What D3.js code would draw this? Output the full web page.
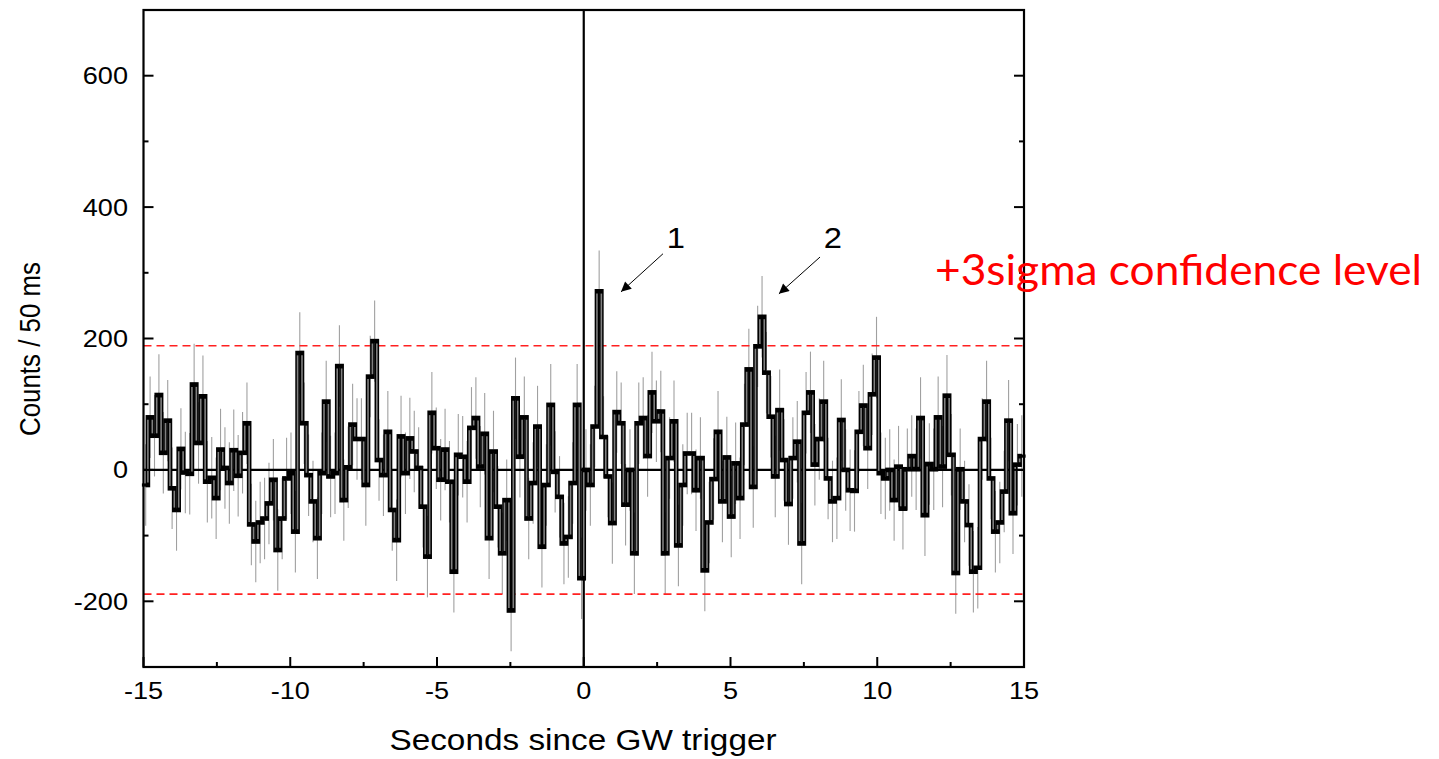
<!DOCTYPE html>
<html><head><meta charset="utf-8">
<script src="https://cdn.jsdelivr.net/npm/d3@7"></script>
<style>html,body{margin:0;padding:0;background:#fff;overflow:hidden}</style>
</head><body><svg id="chart" width="1439" height="759"></svg>
<script>
// ---- data ----
const binStart = -15;      // seconds
const binWidth = 0.15;     // seconds per bin
const counts = [
 -23, 80, 52, 114, 26, 75, -28, -61, 32, -4, -6, 130, 41, 112, -18, -12, -43, 31, 3, -20,
 30, -9, 26, 71, -83, -109, -80, -74, -51, -15, -122, -74, -13, -5, -94, 178, 71, -8, -48, -104,
 -5, 104, -10, -5, 158, -46, 4, 69, 47, 47, -23, 142, 196, 15, -8, 58, -61, -107, 51, -5,
 48, 28, 3, -56, -132, 87, 33, -15, 31, -18, -155, 23, 20, -18, 64, 79, 5, 55, -104, 28,
 -56, -127, -46, -214, 109, 20, 80, -74, -20, 66, -117, -23, 99, -3, -41, -112, -102, -20, 99, -165,
 0, -23, 66, 272, 50, -10, -81, 88, 71, -53, 0, -127, 71, 79, 21, 118, 74, 89, -127, 18,
 74, -115, -23, 25, 25, -31, 18, -153, -80, -14, 58, -48, 19, -71, 10, -43, 69, 153, -26, 188,
 233, 148, 81, -10, 91, 15, -52, 18, 43, -112, 87, 118, 8, 47, 104, -13, -48, -43, 76, 0,
 -31, -32, 58, 98, 33, 115, 171, -5, -13, 0, -46, 5, -59, 1, 21, 1, 79, -69, 9, 1,
 80, 5, 113, 23, -157, 1, -48, -84, -155, -149, 47, 104, -13, -94, -80, -33, 75, -66, 8, 21
];
const errorHalf = 62;          // half length of the error bars (counts)
const sigmaLevel = 189;        // +/- 3 sigma confidence level
const xTickValues = [-15, -10, -5, 0, 5, 10, 15];
const xMinorTicks = [-12.5, -7.5, -2.5, 2.5, 7.5, 12.5];
const yTickValues = [-200, 0, 200, 400, 600];
const yMinorTicks = [-300, -100, 100, 300, 500, 700];
const xTitle = "Seconds since GW trigger";
const yTitle = "Counts / 50 ms";
const sigmaText = "+3sigma confidence level";
const annotLabels = ["1", "2"];
const annotTip = [[1.27, 271], [6.65, 268]];
const annotTail = [[2.70, 329], [8.05, 324]];
const annotText = [[3.14, 355], [8.49, 355]];

// ---- layout ----
const svg = d3.select("#chart");
const X0 = 143.5, X1 = 1024, Y0 = 10, Y1 = 667;
const x = d3.scaleLinear().domain([-15, 15]).range([X0, X1]);
const y = d3.scaleLinear().domain([-300, 700]).range([Y1, Y0]);
const font = "'Liberation Sans', Arial, sans-serif";
const stretch = 1.13;

const bins = counts.map((v, i) => ({ x0: binStart + i * binWidth, x1: binStart + (i + 1) * binWidth, v }));

// error bars
svg.append("g").selectAll("line").data(bins).join("line")
  .attr("x1", d => x((d.x0 + d.x1) / 2)).attr("x2", d => x((d.x0 + d.x1) / 2))
  .attr("y1", d => y(d.v - errorHalf)).attr("y2", d => y(Math.min(d.v + errorHalf, 700)))
  .attr("stroke", "#a0a0a0").attr("stroke-width", 1.1);

// sigma lines
svg.append("g").selectAll("line").data([sigmaLevel, -sigmaLevel]).join("line")
  .attr("x1", X0).attr("x2", X1).attr("y1", d => y(d)).attr("y2", d => y(d))
  .attr("stroke", "#ff2020").attr("stroke-width", 1.7).attr("stroke-dasharray", "8,5");

// zero lines
svg.append("line").attr("x1", X0).attr("x2", X1).attr("y1", y(0)).attr("y2", y(0))
  .attr("stroke", "#000").attr("stroke-width", 2.2);
svg.append("line").attr("x1", x(0)).attr("x2", x(0)).attr("y1", Y0).attr("y2", Y1)
  .attr("stroke", "#000").attr("stroke-width", 2.2);

// step histogram
const verts = bins.slice(0, -1).map((d, i) => ({ xx: d.x1, a: d.v, b: bins[i + 1].v }));
const gStep = svg.append("g");
gStep.selectAll("line.v").data(verts).join("line").attr("class", "v")
  .attr("x1", d => x(d.xx)).attr("x2", d => x(d.xx))
  .attr("y1", d => y(d.a)).attr("y2", d => y(d.b))
  .attr("stroke", "#000").attr("stroke-width", 4.6).attr("stroke-linecap", "square");
gStep.selectAll("line.h").data(bins).join("line").attr("class", "h")
  .attr("x1", d => x(d.x0)).attr("x2", d => x(d.x1))
  .attr("y1", d => y(d.v)).attr("y2", d => y(d.v))
  .attr("stroke", "#000").attr("stroke-width", 3.2).attr("stroke-linecap", "square");
gStep.selectAll("line.vi").data(verts.filter(d => Math.abs(y(d.a) - y(d.b)) > 6)).join("line").attr("class", "vi")
  .attr("x1", d => x(d.xx)).attr("x2", d => x(d.xx))
  .attr("y1", d => { const s = Math.sign(y(d.b) - y(d.a)); return y(d.a) + s * 2.4; })
  .attr("y2", d => { const s = Math.sign(y(d.b) - y(d.a)); return y(d.b) - s * 2.4; })
  .attr("stroke", "#808080").attr("stroke-width", 1.6);

// frame
svg.append("rect").attr("x", X0).attr("y", Y0).attr("width", X1 - X0).attr("height", Y1 - Y0)
  .attr("fill", "none").attr("stroke", "#000").attr("stroke-width", 2.2);

// ticks (inward)
const gT = svg.append("g").attr("stroke", "#000").attr("stroke-width", 2);
xTickValues.concat(xMinorTicks).forEach(v => {
  const len = xTickValues.includes(v) ? 10 : 5;
  gT.append("line").attr("x1", x(v)).attr("x2", x(v)).attr("y1", Y1).attr("y2", Y1 - len);
});
yTickValues.concat(yMinorTicks).forEach(v => {
  const len = yTickValues.includes(v) ? 10 : 5;
  gT.append("line").attr("x1", X0).attr("x2", X0 + len).attr("y1", y(v)).attr("y2", y(v));
  gT.append("line").attr("x1", X1).attr("x2", X1 - len).attr("y1", y(v)).attr("y2", y(v));
});

// tick labels
svg.append("g").selectAll("text").data(xTickValues).join("text")
  .attr("transform", d => `translate(${x(d)},699) scale(${stretch},1)`)
  .attr("text-anchor", "middle").attr("font-family", font).attr("font-size", 24)
  .text(d => d);
svg.append("g").selectAll("text").data(yTickValues).join("text")
  .attr("transform", d => `translate(128,${y(d) + 8.5}) scale(${stretch},1)`)
  .attr("text-anchor", "end").attr("font-family", font).attr("font-size", 24)
  .text(d => d);

// axis titles
svg.append("text").attr("transform", `translate(583,750) scale(${stretch},1)`)
  .attr("text-anchor", "middle").attr("font-family", font).attr("font-size", 29.5)
  .text(xTitle);
svg.append("text").attr("transform", `translate(40,349) rotate(-90)`)
  .attr("text-anchor", "middle").attr("font-family", font).attr("font-size", 29)
  .attr("textLength", 174).attr("lengthAdjust", "spacingAndGlyphs")
  .text(yTitle);

// annotations
const defs = svg.append("defs");
defs.append("marker").attr("id", "ah").attr("viewBox", "0 0 10 10").attr("refX", 10).attr("refY", 5)
  .attr("markerWidth", 16).attr("markerHeight", 10).attr("markerUnits", "userSpaceOnUse").attr("orient", "auto")
  .append("path").attr("d", "M0,0 L10,5 L0,10 z").attr("fill", "#000");
annotLabels.forEach((lab, i) => {
  svg.append("line")
    .attr("x1", x(annotTail[i][0])).attr("y1", y(annotTail[i][1]))
    .attr("x2", x(annotTip[i][0])).attr("y2", y(annotTip[i][1]))
    .attr("stroke", "#000").attr("stroke-width", 1).attr("marker-end", "url(#ah)");
  svg.append("text").attr("transform", `translate(${x(annotText[i][0])},${y(annotText[i][1]) + 11}) scale(${stretch},1)`)
    .attr("text-anchor", "middle").attr("font-family", font).attr("font-size", 29).text(lab);
});

// red sigma annotation
svg.append("text").attr("x", 935).attr("y", 285)
  .attr("font-family", "Lato, 'Open Sans', sans-serif").attr("font-size", 43)
  .attr("fill", "#ff0000").attr("textLength", 487).attr("lengthAdjust", "spacingAndGlyphs")
  .text(sigmaText);
</script></body></html>
